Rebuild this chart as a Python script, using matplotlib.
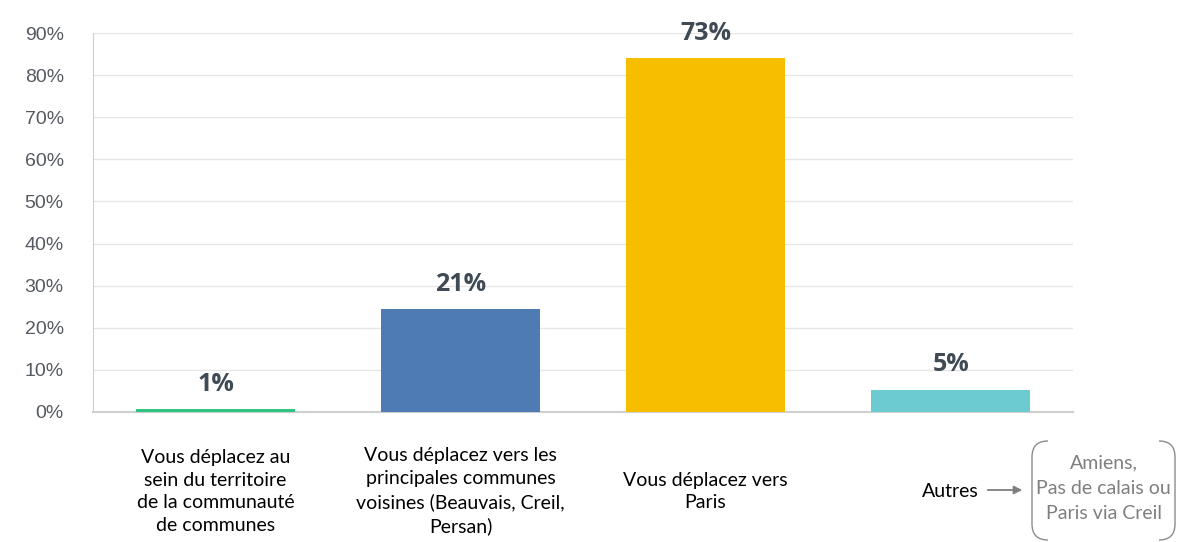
import matplotlib.pyplot as plt
from matplotlib.path import Path
from matplotlib.patches import PathPatch

# Data
categories = [
    "Vous déplacez au\nsein du territoire\nde la communauté\nde communes",
    "Vous déplacez vers les\nprincipales communes\nvoisines (Beauvais, Creil,\nPersan)",
    "Vous déplacez vers\nParis",
    "Autres",
]
bar_heights = [0.6, 24.4, 84.0, 5.3]   # drawn heights (% axis)
value_labels = ["1%", "21%", "73%", "5%"]
colors = ["#2ec47f", "#4f7bb5", "#f7be00", "#6ccbd0"]
autres_detail = "Amiens,\nPas de calais ou\nParis via Creil"
yticks = list(range(0, 100, 10))

fig = plt.figure(figsize=(11.81, 5.42), dpi=100)
ax = fig.add_axes([0.0787, 0.2399, 0.83, 0.6991])

x = range(len(categories))
ax.bar(x, bar_heights, width=0.65, color=colors, zorder=3)

ax.set_xlim(-0.5, 3.5)
ax.set_ylim(0, 90)
ax.set_yticks(yticks)
ax.set_yticklabels([f"{t}%" for t in yticks], family="Liberation Sans",
                   fontsize=14, color="#555a60")
ax.tick_params(axis="y", length=0, pad=21)
ax.set_xticks([])
ax.grid(axis="y", color="#e6e6e6", linewidth=1, zorder=0)
for s in ["top", "right"]:
    ax.spines[s].set_visible(False)
ax.spines["left"].set_color("#cfcfcf")
ax.spines["bottom"].set_color("#cfcfcf")
ax.spines["bottom"].set_linewidth(1.5)

# value labels
for i, (h, lab) in enumerate(zip(bar_heights, value_labels)):
    ax.annotate(lab, (i, h), xytext=(0, 9), textcoords="offset points",
                ha="center", va="bottom", fontsize=18, fontweight="bold",
                color="#404a55", family="Open Sans", clip_on=False)

# category labels under the bars
for i, cat in enumerate(categories):
    ax.text(i, -0.21, cat, transform=ax.get_xaxis_transform(),
            ha="center", va="center", fontsize=14, family="Lato",
            color="black", linespacing=1.42)

# arrow and bracket box for "Autres"
ax.annotate("", xy=(1025 / 1181, 1 - 490 / 542), xytext=(985 / 1181, 1 - 490 / 542),
            xycoords="figure fraction", textcoords="figure fraction",
            arrowprops=dict(arrowstyle="-|>", color="#7f7f7f", lw=1.3,
                            mutation_scale=12))

W, H = 1181.0, 542.0
x0, x1, top, bot, r = 1032, 1175, 441, 540, 16


def fp(px, py):
    return (px / W, 1 - py / H)


left = Path([fp(x0 + r, top), fp(x0, top), fp(x0, top + r), fp(x0, bot - r),
             fp(x0, bot), fp(x0 + r, bot)],
            [Path.MOVETO, Path.CURVE3, Path.CURVE3, Path.LINETO,
             Path.CURVE3, Path.CURVE3])
right = Path([fp(x1 - r, top), fp(x1, top), fp(x1, top + r), fp(x1, bot - r),
              fp(x1, bot), fp(x1 - r, bot)],
             [Path.MOVETO, Path.CURVE3, Path.CURVE3, Path.LINETO,
              Path.CURVE3, Path.CURVE3])
for p in (left, right):
    fig.patches.append(PathPatch(p, transform=fig.transFigure, fill=False,
                                 edgecolor="#8c8c8c", lw=1.0))

fig.text((x0 + x1) / 2 / W, 1 - 488 / H, autres_detail, ha="center", va="center",
         fontsize=14, family="Lato", color="#7f7f7f", linespacing=1.6)

fig.savefig("out.png", dpi=100)
